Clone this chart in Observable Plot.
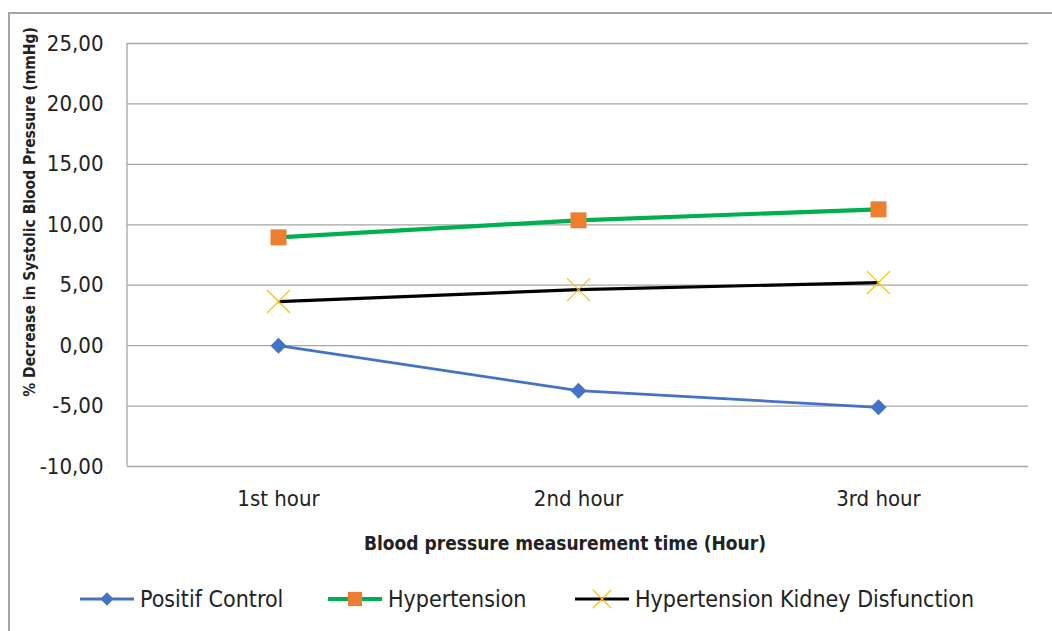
<!DOCTYPE html>
<html>
<head>
<meta charset="utf-8">
<script src="https://cdn.jsdelivr.net/npm/d3@7"></script>
<script src="https://cdn.jsdelivr.net/npm/@observablehq/plot@0.6"></script>
<style>
  html, body { margin: 0; padding: 0; background: #fff; }
  body { width: 1052px; height: 631px; overflow: hidden; position: relative;
         font-family: "Liberation Sans Narrow", "DejaVu Sans Condensed", "Open Sans", sans-serif; }
  #frame { position: absolute; left: 8px; top: 12px; width: 1060px; height: 640px;
           border-left: 2px solid #a6a6a6; border-top: 2px solid #a6a6a6; }
  #chart { position: absolute; left: 0; top: 0; }
  #legend { position: absolute; left: 0; top: 582px; width: 1052px; height: 34px; }
  .item { position: absolute; top: 0; display: flex; align-items: center; height: 34px;
          font-size: 23px; color: #222; white-space: nowrap; }
  .item svg { margin-right: 4px; }
</style>
</head>
<body>
<div id="frame"></div>
<div id="chart"></div>
<div id="legend"></div>
<script>
const hours = ["1st hour", "2nd hour", "3rd hour"];
const seriesNames = ["Positif Control", "Hypertension", "Hypertension Kidney Disfunction"];
const positifControl = [0.00, -3.73, -5.10];
const hypertension = [8.96, 10.37, 11.28];
const hypertensionKidney = [3.65, 4.64, 5.22];
const yTicks = [-10, -5, 0, 5, 10, 15, 20, 25];

const styles = {
  "Positif Control": {stroke: "#4472C4", width: 2.8, symbol: "diamond2", fill: "#4472C4", r: 7.2, markStroke: "none", markWidth: 0, legendR: 6},
  "Hypertension": {stroke: "#00B050", width: 4.2, symbol: "square", fill: "#ED7D31", r: 9, markStroke: "none", markWidth: 0, legendR: 8},
  "Hypertension Kidney Disfunction": {stroke: "#000000", width: 3.2, symbol: "times", fill: "none", r: 10.5, markStroke: "#FFC000", markWidth: 1.2, legendR: 8.5}
};

const valuesBySeries = [positifControl, hypertension, hypertensionKidney];
const data = [];
seriesNames.forEach((s, i) => hours.forEach((h, j) => data.push({series: s, hour: h, value: valuesBySeries[i][j]})));

const fmt = d => d3.format(".2f")(d).replace(".", ",").replace("−", "-");

const marks = [
  Plot.ruleY(yTicks, {stroke: "#a6a6a6", strokeWidth: 1.3, strokeOpacity: 1}),
  Plot.axisY({ticks: yTicks, tickFormat: fmt, tickSize: 0, tickPadding: 24, fontSize: 22, label: null, fill: "#222"}),
  Plot.axisX({tickSize: 0, tickPadding: 24, fontSize: 22, label: null, fill: "#222"})
];
for (const s of seriesNames) {
  const st = styles[s];
  const d = data.filter(e => e.series === s);
  marks.push(Plot.line(d, {x: "hour", y: "value", stroke: st.stroke, strokeWidth: st.width, strokeLinecap: "butt"}));
  marks.push(Plot.dot(d, {x: "hour", y: "value", symbol: () => st.symbol, r: st.r, fill: st.fill,
    stroke: st.markStroke, strokeWidth: st.markWidth}));
}

const plot = Plot.plot({
  width: 1052,
  height: 570,
  marginLeft: 127,
  marginRight: 24,
  marginTop: 43,
  marginBottom: 104,
  style: {background: "transparent", fontFamily: "\"Liberation Sans Narrow\", \"DejaVu Sans Condensed\", sans-serif"},
  x: {type: "point", domain: hours, padding: 0.5, axis: null},
  y: {domain: [-10, 25], axis: null},
  symbol: {type: "identity"},
  marks
});
document.getElementById("chart").appendChild(plot);

const svg = d3.select(plot);
const ys = plot.scale("y");
const xs = plot.scale("x");
// left axis line of the plot area
svg.insert("line", ":first-child")
  .attr("x1", xs.range[0]).attr("x2", xs.range[0])
  .attr("y1", ys.range[0]).attr("y2", ys.range[1])
  .attr("stroke", "#a6a6a6").attr("stroke-width", 1.3);
svg.append("text")
  .attr("transform", "translate(35,212) rotate(-90)")
  .attr("text-anchor", "middle")
  .attr("font-size", 15.5)
  .attr("font-weight", "bold")
  .attr("fill", "#222")
  .attr("font-family", "\"Liberation Sans Narrow\", \"DejaVu Sans Condensed\", sans-serif")
  .text("% Decrease in Systolic Blood Pressure (mmHg)");
svg.append("text")
  .attr("x", 565).attr("y", 550)
  .attr("text-anchor", "middle")
  .attr("font-size", 19)
  .attr("font-weight", "bold")
  .attr("fill", "#222")
  .attr("font-family", "\"Liberation Sans Narrow\", \"DejaVu Sans Condensed\", sans-serif")
  .text("Blood pressure measurement time (Hour)");

// Legend
const legendPos = [80, 328, 575];
const legend = document.getElementById("legend");
seriesNames.forEach((s, i) => {
  const st = styles[s];
  const item = document.createElement("div");
  item.className = "item";
  item.style.left = legendPos[i] + "px";
  const sw = d3.create("svg").attr("width", 56).attr("height", 34);
  sw.append("line").attr("x1", 0).attr("x2", 54).attr("y1", 17).attr("y2", 17)
    .attr("stroke", st.stroke).attr("stroke-width", st.width);
  const symMap = {diamond2: d3.symbolDiamond2, square: d3.symbolSquare, times: d3.symbolTimes};
  sw.append("path").attr("transform", "translate(27,17)")
    .attr("d", d3.symbol(symMap[st.symbol], Math.PI * st.legendR * st.legendR)())
    .attr("fill", st.fill).attr("stroke", st.markStroke).attr("stroke-width", st.markWidth);
  item.appendChild(sw.node());
  const t = document.createElement("span");
  t.textContent = s;
  item.appendChild(t);
  legend.appendChild(item);
});
</script>
</body>
</html>
